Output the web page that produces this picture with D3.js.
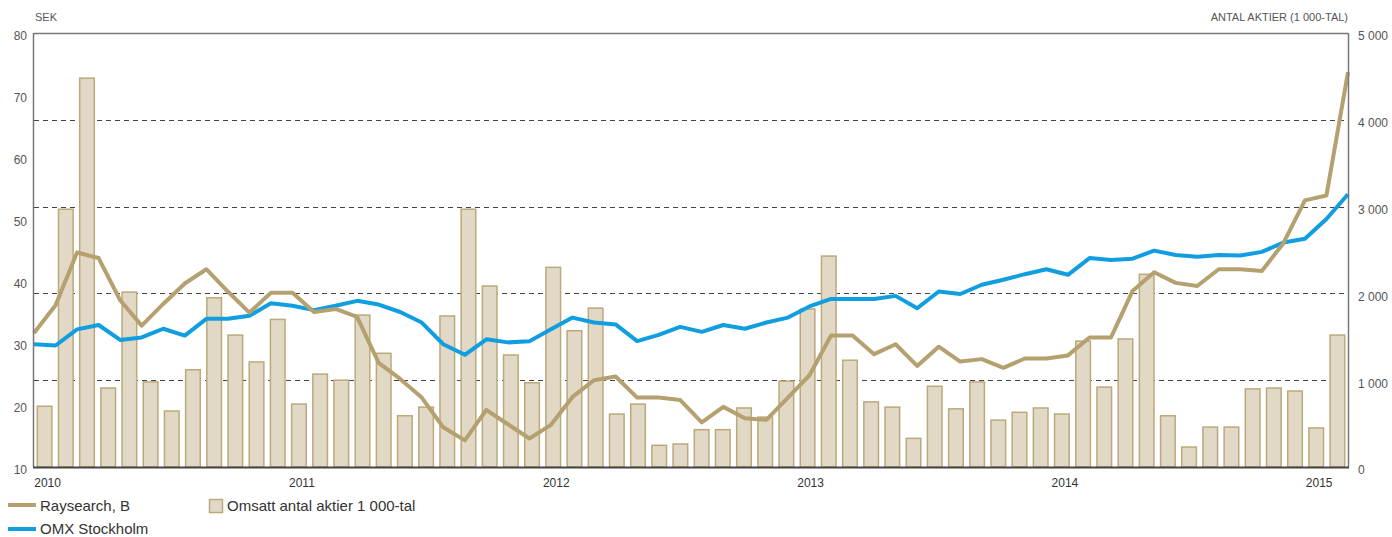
<!DOCTYPE html>
<html>
<head>
<meta charset="utf-8">
<script src="https://cdn.jsdelivr.net/npm/d3@7"></script>
<style>
  body { margin: 0; background: #fff; }
  text { font-family: "Liberation Sans", Arial, sans-serif; }
</style>
</head>
<body>
<div id="chart"></div>
<script>
// monthly, jan 2010 - feb 2015
var months = d3.utcMonths(new Date(Date.UTC(2010, 0, 1)), new Date(Date.UTC(2015, 2, 1)));
var yearLabels = ['2010', '2011', '2012', '2013', '2014', '2015'];

// Raysearch, B (SEK)
var raysearch = [31.6, 36.1, 44.6, 43.7, 36.9, 32.8, 36.3, 39.6, 41.9, 38.3, 34.9, 38.1,
  38.1, 35.0, 35.5, 34.2, 26.8, 24.2, 21.2, 16.4, 14.3, 19.2, 16.9, 14.6,
  16.8, 21.3, 24.0, 24.6, 21.2, 21.2, 20.8, 17.2, 19.7, 17.85, 17.6, 21.2,
  24.8, 31.2, 31.2, 28.2, 29.8, 26.3, 29.4, 27.0, 27.4, 26.0, 27.5, 27.5,
  28.0, 30.9, 30.9, 38.4, 41.4, 39.7, 39.2, 41.9, 41.9, 41.6, 46.1, 53.0,
  53.8, 73.7];

// OMX Stockholm (indexed to SEK axis)
var omx = [29.8, 29.6, 32.2, 32.9, 30.5, 30.9, 32.3, 31.2, 33.9, 33.9, 34.4, 36.4,
  36.0, 35.3, 36.0, 36.8, 36.2, 35.0, 33.3, 29.8, 28.1, 30.6, 30.1, 30.3,
  32.2, 34.1, 33.3, 33.0, 30.3, 31.3, 32.6, 31.8, 32.9, 32.3, 33.3, 34.1,
  35.9, 37.1, 37.1, 37.1, 37.6, 35.6, 38.3, 37.9, 39.4, 40.2, 41.1, 41.9,
  41.0, 43.7, 43.4, 43.6, 44.9, 44.2, 43.9, 44.2, 44.1, 44.7, 46.2, 46.8,
  50.0, 54.0];

// omsatt antal aktier, 1 000-tal
var volume = [700, 2970, 4480, 910, 2015, 980, 645, 1120, 1950, 1520, 1210, 1700,
  725, 1070, 1000, 1750, 1310, 590, 690, 1740, 2970, 2085, 1290, 970,
  2300, 1570, 1830, 610, 725, 250, 265, 430, 430, 680, 575, 990,
  1820, 2430, 1230, 750, 690, 330, 930, 670, 980, 540, 630, 680,
  610, 1450, 920, 1475, 2220, 590, 230, 460, 460, 900, 910, 875,
  450, 1520];

var leftTicks = [10, 20, 30, 40, 50, 60, 70, 80];
var rightTicks = [0, 1000, 2000, 3000, 4000, 5000];
var gridTicks = [1000, 2000, 3000, 4000];

var width = 1392, height = 537;
var margin = { top: 33, right: 44, bottom: 70, left: 34 };
var x0 = margin.left, x1 = width - margin.right;
var yTop = margin.top, yBot = height - margin.bottom;

var gold = '#b5a06f', blue = '#109ee0';
var barFill = '#e1d9c6', barStroke = '#bba97c';

var svg = d3.select('#chart').append('svg')
  .attr('width', width)
  .attr('height', height);

var xBand = d3.scaleBand().domain(d3.range(months.length)).range([x0, x1])
  .paddingInner(0.31).paddingOuter(0.155);
var xPoint = d3.scalePoint().domain(d3.range(months.length)).range([x0, x1]);
var yLeft = d3.scaleLinear().domain([10, 80]).range([yBot, yTop]);
var yRight = d3.scaleLinear().domain([0, 5000]).range([yBot, yTop]);

// dashed grid
svg.append('g').selectAll('line').data(gridTicks).enter().append('line')
  .attr('x1', x0).attr('x2', x1)
  .attr('y1', function(d) { return Math.round(yRight(d)) + 0.5; })
  .attr('y2', function(d) { return Math.round(yRight(d)) + 0.5; })
  .attr('stroke', '#444')
  .attr('stroke-width', 1.2)
  .attr('stroke-dasharray', '5,4');

// bars
svg.append('g').selectAll('rect').data(volume).enter().append('rect')
  .attr('x', function(d, i) { return xBand(i); })
  .attr('width', xBand.bandwidth())
  .attr('y', function(d) { return yRight(d); })
  .attr('height', function(d) { return yBot - yRight(d); })
  .attr('fill', barFill)
  .attr('stroke', barStroke)
  .attr('stroke-width', 1.5);

// lines
var line = function(yScale) {
  return d3.line()
    .x(function(d, i) { return xPoint(i); })
    .y(function(d) { return yScale(d); });
};
svg.append('path').datum(omx)
  .attr('d', line(yLeft))
  .attr('fill', 'none').attr('stroke', blue)
  .attr('stroke-width', 4).attr('stroke-linejoin', 'round');
svg.append('path').datum(raysearch)
  .attr('d', line(yLeft))
  .attr('fill', 'none').attr('stroke', gold)
  .attr('stroke-width', 4).attr('stroke-linejoin', 'round');

// frame
svg.append('line').attr('x1', x0).attr('x2', x1).attr('y1', yTop + 0.5).attr('y2', yTop + 0.5)
  .attr('stroke', '#777').attr('stroke-width', 1.3);
svg.append('line').attr('x1', x0 - 0.5).attr('x2', x0 - 0.5).attr('y1', yTop).attr('y2', yBot)
  .attr('stroke', '#777').attr('stroke-width', 1.5);
svg.append('line').attr('x1', x1 + 0.5).attr('x2', x1 + 0.5).attr('y1', yTop).attr('y2', yBot)
  .attr('stroke', '#777').attr('stroke-width', 1.5);
svg.append('line').attr('x1', x0 - 1).attr('x2', x1 + 1).attr('y1', yBot + 0.5).attr('y2', yBot + 0.5)
  .attr('stroke', '#444').attr('stroke-width', 1.8);

// axes
var leftAxis = d3.axisLeft(yLeft).tickValues(leftTicks).tickSize(0).tickPadding(7);
var gl = svg.append('g').attr('transform', 'translate(' + x0 + ',3)').call(leftAxis);
var rightAxis = d3.axisRight(yRight).tickValues(rightTicks).tickSize(0).tickPadding(10)
  .tickFormat(function(d) { return d3.format(',')(d).replace(',', ' '); });
var gr = svg.append('g').attr('transform', 'translate(' + x1 + ',3)').call(rightAxis);
[gl, gr].forEach(function(g) {
  g.select('.domain').remove();
  g.selectAll('text').attr('fill', '#555').style('font-size', '12px')
    .style('font-family', '"Liberation Sans", sans-serif');
});

// year labels
svg.append('g').selectAll('text').data(yearLabels).enter().append('text')
  .attr('x', function(d, i) { return xBand(i * 12) + xBand.bandwidth() / 2 + 3; })
  .attr('y', 487)
  .attr('text-anchor', 'middle')
  .attr('fill', '#333')
  .style('font-size', '12px')
  .text(function(d) { return d; });

// axis titles
svg.append('text').attr('x', x0 + 1).attr('y', 21)
  .attr('fill', '#555').style('font-size', '11px').text('SEK');
svg.append('text').attr('x', x1).attr('y', 21).attr('text-anchor', 'end')
  .attr('fill', '#555').style('font-size', '11px').text('ANTAL AKTIER (1 000-TAL)');

// legend
var legend = svg.append('g');
legend.append('line').attr('x1', 8).attr('x2', 36).attr('y1', 505).attr('y2', 505)
  .attr('stroke', gold).attr('stroke-width', 4);
legend.append('text').attr('x', 40).attr('y', 511).attr('fill', '#333')
  .style('font-size', '15px').text('Raysearch, B');
legend.append('line').attr('x1', 8).attr('x2', 36).attr('y1', 529).attr('y2', 529)
  .attr('stroke', blue).attr('stroke-width', 4);
legend.append('text').attr('x', 40).attr('y', 534).attr('fill', '#333')
  .style('font-size', '15px').text('OMX Stockholm');
legend.append('rect').attr('x', 209.5).attr('y', 499.5).attr('width', 13).attr('height', 13)
  .attr('fill', barFill).attr('stroke', barStroke).attr('stroke-width', 1.5);
legend.append('text').attr('x', 227).attr('y', 511).attr('fill', '#333')
  .style('font-size', '15px').text('Omsatt antal aktier 1 000-tal');
</script>
</body>
</html>
